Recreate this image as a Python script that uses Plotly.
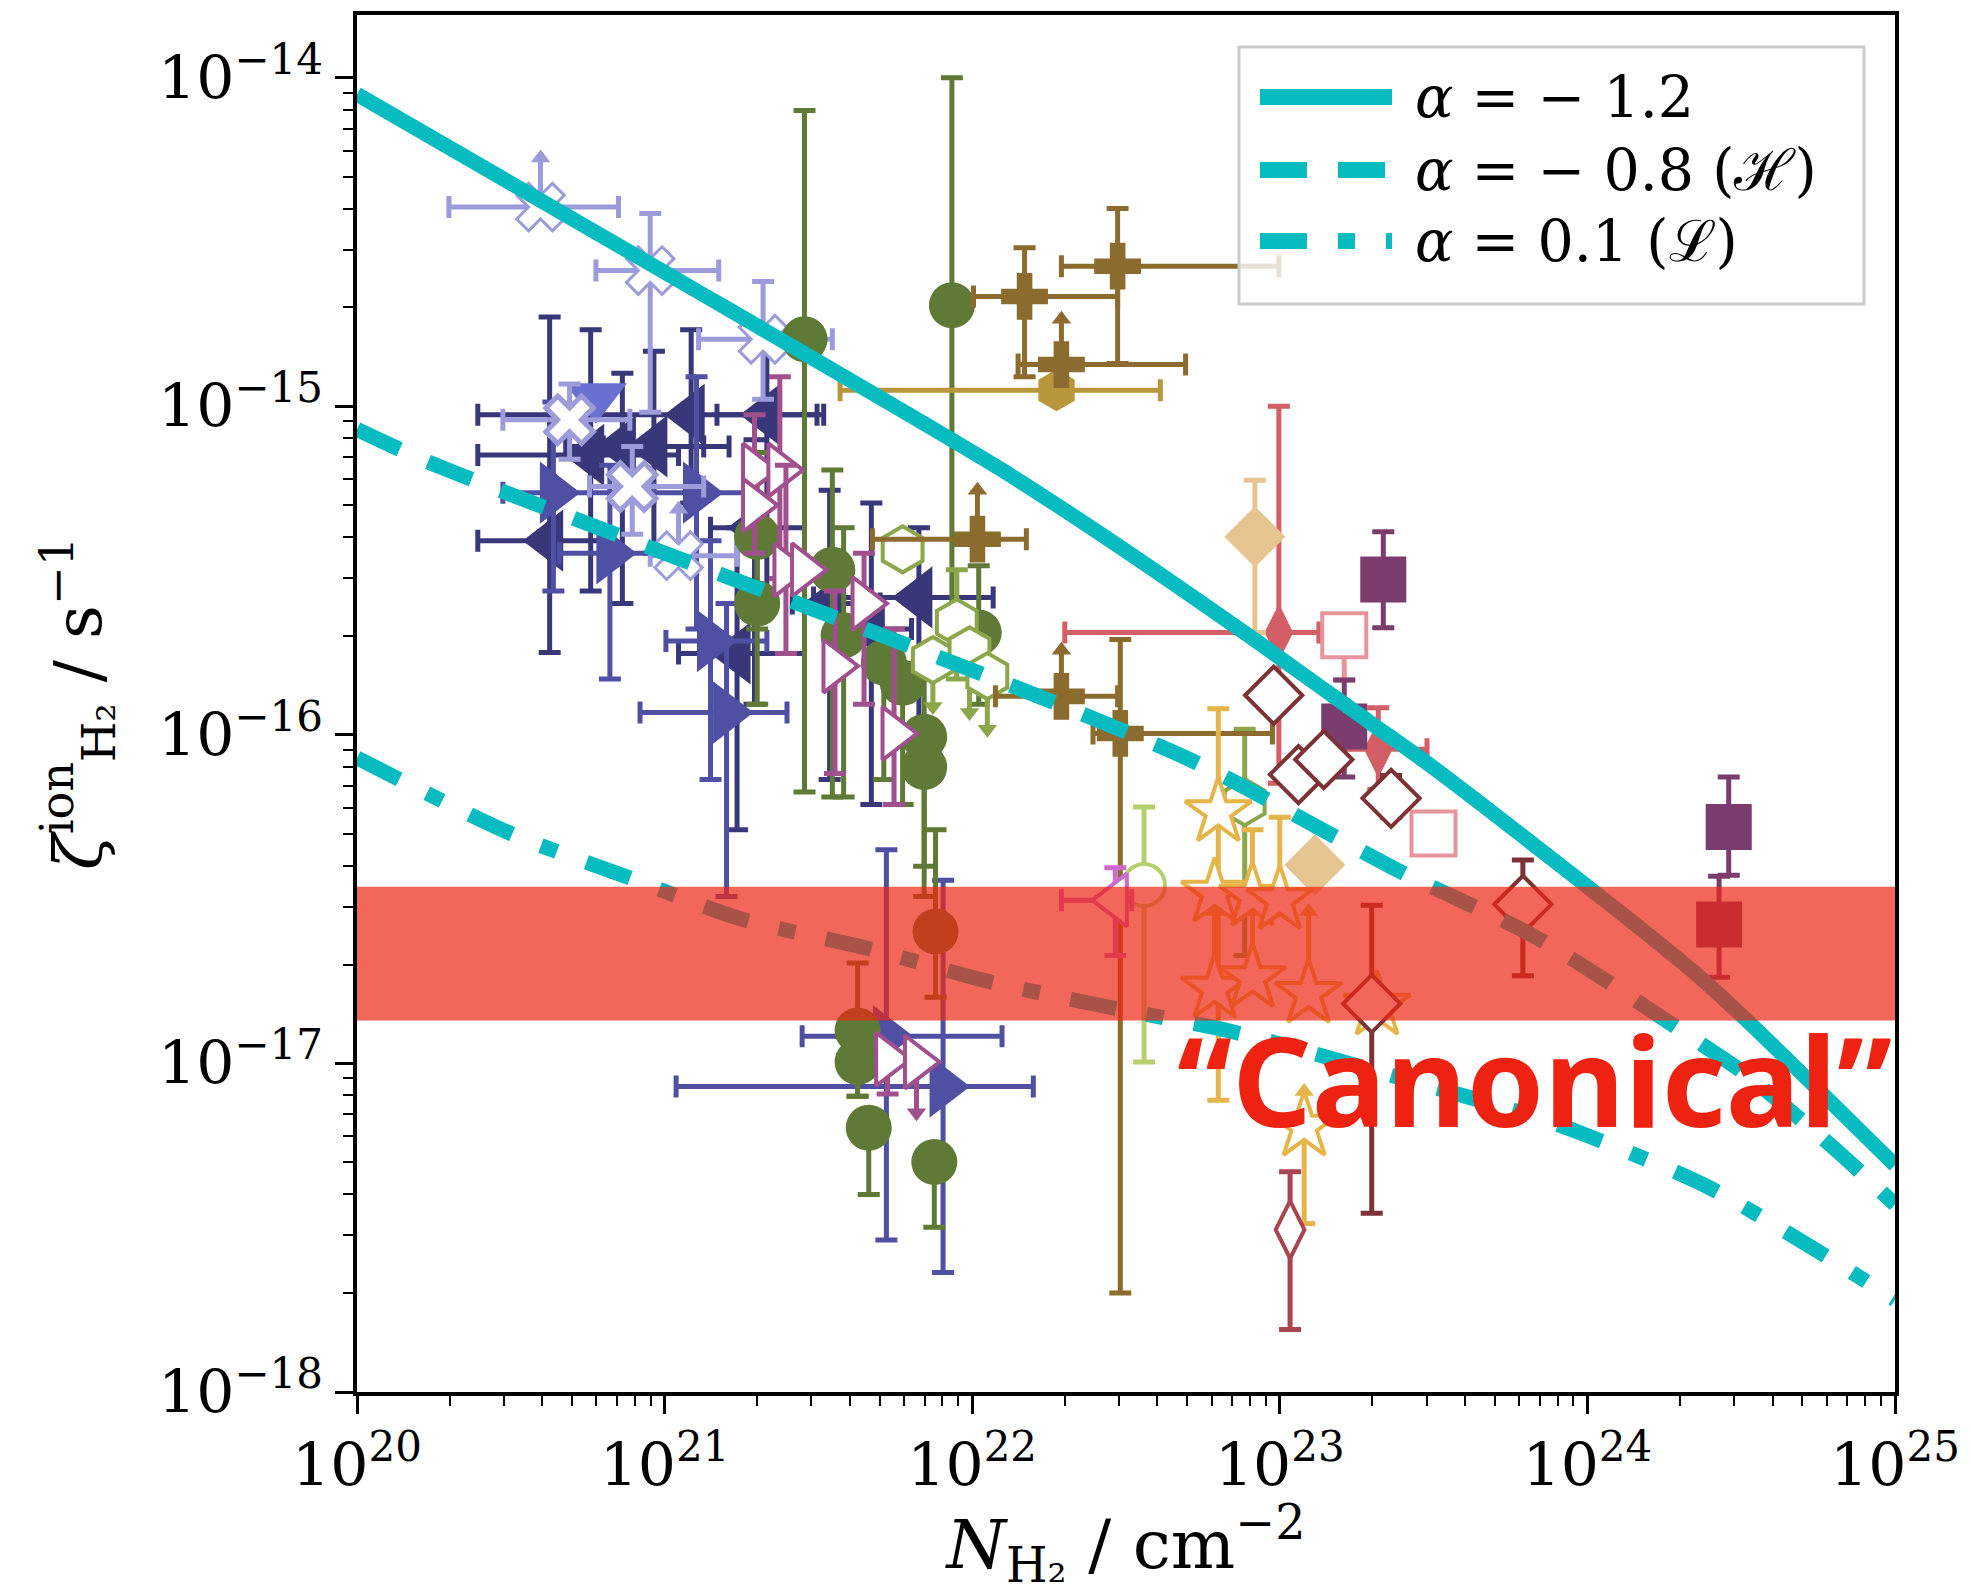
import math
import plotly.graph_objects as go

# ---------------- model curves: zeta(N) for three low-energy spectral slopes ----------------
N_a12 = [1.00e20, 9.12e20, 1.23e22, 2.60e22, 7.94e22, 1.94e23, 3.16e23, 1.20e24, 2.32e24, 3.39e24, 1.00e25]
Z_a12 = [8.91e-15, 2.69e-15, 6.46e-16, 4.10e-16, 2.00e-16, 1.10e-16, 7.94e-17, 3.02e-17, 1.83e-17, 1.32e-17, 4.90e-18]

N_a08 = [1.00e20, 1.71e20, 8.83e20, 1.35e22, 5.37e22, 1.51e23, 2.51e23, 6.92e23, 2.33e24, 3.23e24, 5.90e24, 7.80e24, 1.00e25]
Z_a08 = [8.51e-16, 6.76e-16, 3.74e-16, 1.41e-16, 8.22e-17, 4.90e-17, 3.80e-17, 2.40e-17, 1.15e-17, 9.35e-18, 5.85e-18, 4.63e-18, 3.72e-18]

N_a01 = [1.00e20, 3.16e20, 7.41e20, 1.78e21, 4.57e21, 1.12e22, 2.82e22, 6.76e22, 2.00e23, 6.61e23, 1.00e24, 2.45e24, 5.37e24, 1.00e25]
Z_a01 = [8.51e-17, 5.01e-17, 3.72e-17, 2.75e-17, 2.24e-17, 1.78e-17, 1.48e-17, 1.26e-17, 9.55e-18, 6.92e-18, 6.03e-18, 4.22e-18, 2.75e-18, 1.91e-18]

legend_labels = ["<i>α</i> = − 1.2", "<i>α</i> = − 0.8 (ℋ)", "<i>α</i> = 0.1 (ℒ)"]

# "canonical" ionisation-rate range
canon_lo, canon_hi = 1.35e-17, 3.45e-17

# ---------------- observational estimates ----------------
# light-lavender crosses
A_N   = [3.95e20, 8.98e20, 2.09e21, 1.11e21]
A_Z   = [4.04e-15, 2.59e-15, 1.60e-15, 3.51e-16]
A_Nlo = [1.99e20, 5.98e20, 1.29e21, 8.98e20]
A_Nhi = [7.08e20, 1.50e21, 3.51e21, 1.72e21]
A_Zlo = [None, 9.6e-16, 1.05e-15, None]
A_Zhi = [None, 3.86e-15, 2.40e-15, None]
A_low = [5.7e-15, None, None, 4.86e-16]

# white crosses, lavender edge
B_N   = [4.91e20, 7.85e20]
B_Z   = [9.1e-16, 5.70e-16]
B_Nlo = [2.98e20, 5.70e20]
B_Nhi = [7.71e20, 1.34e21]
B_Zlo = [6.9e-16, 4.08e-16]
B_Zhi = [1.17e-15, 7.55e-16]

# dark navy left triangles
C_N   = [4.23e20, 1.22e21, 2.15e21, 7.29e20, 1.72e21, 6.71e21, 1.96e21, 3.44e21, 4.70e21, 9.23e20, 5.75e20]
C_Z   = [3.90e-16, 9.42e-16, 9.42e-16, 7.55e-16, 1.77e-16, 2.62e-16, 4.27e-16, 2.51e-16, 2.10e-16, 7.55e-16, 7.11e-16]
C_Nlo = [2.47e20, 2.47e20, 1.48e21, 4.77e20, 1.11e21, 3.05e21, 1.41e21, 2.60e21, 3.61e21, 6.32e20, 2.47e20]
C_Nhi = [6.32e20, 3.13e21, 3.29e21, 1.34e21, 2.85e21, 1.17e22, 2.85e21, 5.02e21, 6.35e21, 1.62e21, 1.11e21]
C_Zlo = [1.78e-16, 5.08e-16, 2.74e-16, 2.51e-16, 5.14e-17, 9.53e-17, 1.24e-16, 7.31e-17, 6.14e-17, 3.57e-16, 2.74e-16]
C_Zhi = [1.87e-15, 1.71e-15, 1.60e-15, 1.26e-15, 4.27e-16, 4.27e-16, 7.91e-16, 5.55e-16, 5.08e-16, 1.47e-15, 1.71e-15]

# medium blue right triangles
D_N   = [4.35e20, 6.64e20, 1.27e21, 1.41e21, 1.59e21, 5.26e21, 8.04e21]
D_Z   = [5.46e-16, 3.57e-16, 5.46e-16, 1.93e-16, 1.17e-16, 1.21e-17, 8.51e-18]
D_Nlo = [2.98e20, 4.55e20, 9.23e20, 1.01e21, 8.32e20, 2.80e21, 1.09e21]
D_Nhi = [6.95e20, 1.01e21, 1.96e21, 2.15e21, 2.50e21, 1.25e22, 1.58e22]
D_Zlo = [2.74e-16, 1.48e-16, 2.10e-16, 7.31e-17, 3.22e-17, 2.90e-18, 2.31e-18]
D_Zhi = [1.03e-15, 6.62e-16, 1.23e-15, 3.90e-16, 2.51e-16, 4.47e-17, 3.61e-17]

# periwinkle down triangle
E_N = [5.98e20]
E_Z = [1.07e-15]

# olive circles
F_N   = [2.85e21, 8.59e21, 2.00e21, 2.00e21, 3.51e21, 3.82e21, 5.16e21, 5.94e21, 6.98e21, 6.98e21,
         1.05e22, 7.60e21, 4.24e21, 4.24e21, 4.61e21, 7.53e21]
F_Z   = [1.60e-15, 2.03e-15, 4.01e-16, 2.51e-16, 3.18e-16, 2.01e-16, 1.66e-16, 1.44e-16, 9.87e-17, 7.98e-17,
         2.05e-16, 2.52e-17, 1.26e-17, 1.01e-17, 6.37e-18, 5.01e-18]
F_Zlo = [6.70e-17, 1.69e-16, 2.10e-16, 1.24e-16, 6.47e-17, 6.47e-17, 7.31e-17, 6.14e-17, 3.98e-17, 3.22e-17,
         1.24e-16, 1.59e-17, 7.94e-18, 7.94e-18, 3.99e-18, 3.17e-18]
F_Zhi = [7.95e-15, 1.0e-14, 7.23e-16, 4.27e-16, 6.40e-16, 4.27e-16, None, None, None, 1.48e-16,
         3.27e-16, 5.14e-17, 2.02e-17, None, None, None]

# light olive hexagons (three of them are upper limits)
H_N   = [5.94e21, 8.91e21, 7.45e21, 9.80e21, 1.12e22, 7.69e22]
H_Z   = [3.67e-16, 2.20e-16, 1.69e-16, 1.81e-16, 1.51e-16, 6.24e-17]
H_Zlo = [None, 1.48e-16, None, None, None, 2.13e-17]
H_Zhi = [None, 3.18e-16, None, None, None, 1.04e-16]
H_up  = [None, None, 1.22e-16, 1.17e-16, 1.04e-16, None]

# brown plus markers
P_N   = [1.48e22, 2.97e22, 1.95e22, 1.04e22, 1.95e22, 3.03e22]
P_Z   = [2.16e-15, 2.67e-15, 1.34e-15, 3.94e-16, 1.31e-16, 1.01e-16]
P_Nlo = [1.01e22, 1.95e22, 1.41e22, 4.74e21, 1.19e22, 2.47e22]
P_Nhi = [2.97e22, 9.93e22, 4.94e22, 1.50e22, 2.97e22, 9.46e22]
P_Zlo = [1.23e-15, 1.35e-15, None, None, None, 2.00e-18]
P_Zhi = [3.04e-15, 4.00e-15, None, None, None, 1.95e-16]
P_low = [None, None, 1.84e-15, 5.55e-16, 1.81e-16, None]

# gold hexagon
G_N, G_Z, G_Nlo, G_Nhi = [1.88e22], [1.12e-15], [3.72e21], [4.09e22]

# coral thin diamonds
R_N   = [9.93e22, 2.09e23]
R_Z   = [2.05e-16, 9.04e-17]
R_Nlo = [2.00e22, 1.49e23]
R_Nhi = [1.34e23, 3.01e23]
R_Zlo = [7.13e-17, 6.82e-17]
R_Zhi = [1.0e-15, 1.21e-16]

# pink open squares
Q_N, Q_Z, Q_Zlo = [1.62e23, 3.16e23], [2.01e-16, 5.01e-17], [1.47e-16, None]

# plum squares
S_N   = [2.17e23, 1.62e23, 2.88e24, 2.68e24]
S_Z   = [2.97e-16, 1.06e-16, 5.24e-17, 2.65e-17]
S_Zlo = [2.12e-16, 7.45e-17, 3.74e-17, 1.83e-17]
S_Zhi = [4.15e-16, 1.47e-16, 7.45e-17, 3.71e-17]

# maroon open diamonds
K_N   = [9.55e22, 1.15e23, 1.39e23, 2.30e23, 6.17e23, 1.99e23]
K_Z   = [1.32e-16, 7.57e-17, 8.41e-17, 6.41e-17, 3.05e-17, 1.52e-17]
K_Zlo = [None, None, None, 5.61e-17, 1.85e-17, 3.50e-18]
K_Zhi = [None, None, None, 7.52e-17, 4.16e-17, 3.03e-17]

# rose thin open diamond
K7_N, K7_Z, K7_Zlo, K7_Zhi = [1.08e23], [3.12e-18], [1.55e-18], [4.68e-18]

# tan diamonds
T_N, T_Z, T_Zlo, T_Zhi = [8.30e22, 1.30e23], [4.01e-16, 4.02e-17], [2.05e-16, None], [5.96e-16, None]

# golden open stars
Y_N   = [6.31e22, 6.14e22, 8.15e22, 1.00e23, 6.14e22, 8.15e22, 1.24e23, 1.20e23, 2.07e23]
Y_Z   = [5.82e-17, 3.31e-17, 3.22e-17, 3.14e-17, 1.69e-17, 1.82e-17, 1.63e-17, 6.43e-18, 1.50e-17]
Y_Zlo = [7.73e-18, None, None, None, None, None, None, 3.26e-18, None]
Y_Zhi = [1.20e-16, None, 5.14e-17, 5.61e-17, None, None, None, None, None]
Y_low = [None, None, None, None, 2.9e-17, 2.9e-17, 2.9e-17, 8.22e-18, None]

# light green open circle
L_N, L_Z, L_Zlo, L_Zhi = [3.62e22], [3.49e-17], [1.01e-17], [6.03e-17]

# orchid open left triangle
O_N, O_Z, O_Nlo, O_Nhi, O_Zlo, O_Zhi = [2.92e22], [3.14e-17], [1.95e22], [3.30e22], [2.13e-17], [3.94e-17]

# magenta open right triangles (last one an upper limit)
M_N   = [1.96e21, 2.37e21, 1.96e21, 2.48e21, 2.83e21, 4.45e21, 3.58e21, 5.57e21, 5.31e21, 6.59e21]
M_Z   = [6.40e-16, 6.40e-16, 5.00e-16, 3.18e-16, 3.18e-16, 2.51e-16, 1.62e-16, 1.01e-16, 1.03e-17, 1.01e-17]
M_Zlo = [3.57e-16, 2.99e-16, None, 1.77e-16, None, 1.24e-16, 7.63e-17, 6.14e-17, 8.07e-18, None]
M_Zhi = [9.42e-16, 1.23e-15, None, 6.62e-16, None, 3.57e-16, 2.74e-16, 2.10e-16, None, None]
M_up  = [None] * 9 + [7.08e-18]

# ---------------- drawing ----------------
CYAN = "#06BCC1"
fig = go.Figure()


def _get(a, i):
    return None if a is None else a[i]


def add_points(N, Z, symbol, color, size, fill=None, lw=0,
               Nlo=None, Nhi=None, Zlo=None, Zhi=None, ew=5):
    for i in range(len(N)):
        tr = dict(x=[N[i]], y=[Z[i]], mode="markers", showlegend=False, hoverinfo="skip",
                  marker=dict(symbol=symbol, size=size, color=fill or color,
                              line=dict(color=color, width=lw)))
        lo, hi = _get(Zlo, i), _get(Zhi, i)
        if lo is not None or hi is not None:
            tr["error_y"] = dict(type="data", symmetric=False,
                                 array=[hi - Z[i] if hi is not None else 0],
                                 arrayminus=[Z[i] - lo if lo is not None else 0],
                                 color=color, thickness=ew, width=11)
        lo, hi = _get(Nlo, i), _get(Nhi, i)
        if lo is not None or hi is not None:
            tr["error_x"] = dict(type="data", symmetric=False,
                                 array=[hi - N[i] if hi is not None else 0],
                                 arrayminus=[N[i] - lo if lo is not None else 0],
                                 color=color, thickness=ew, width=11)
        fig.add_trace(go.Scatter(**tr))


def add_limits(N, Z, tips, color):
    for n, z, t in zip(N, Z, tips):
        if t is None:
            continue
        fig.add_trace(go.Scatter(x=[n, n], y=[z, t], mode="lines", showlegend=False,
                                 hoverinfo="skip", line=dict(color=color, width=5)))
        fig.add_trace(go.Scatter(x=[n], y=[t], mode="markers", showlegend=False, hoverinfo="skip",
                                 marker=dict(symbol="triangle-up" if t > z else "triangle-down",
                                             size=17, color=color, line=dict(width=0))))


NAVY, BLUE, LAV, PERI = "#37377A", "#4F50A3", "#9C9CDB", "#6A70CF"
OLIVE, LOLIVE, BROWN, GOLD = "#5E7A36", "#8CA64C", "#8B6B2E", "#B8963B"
CORAL, PINK, PLUM, MAROON = "#D35E66", "#E5959B", "#7B3C6E", "#7D3236"
ROSE, TAN, STAR, LGREEN = "#AA4450", "#E6C591", "#E5B54A", "#B7D06E"
ORCHID, MAGENTA = "#CE6ACB", "#A1508E"

add_points(C_N, C_Z, "triangle-left", NAVY, 54, Nlo=C_Nlo, Nhi=C_Nhi, Zlo=C_Zlo, Zhi=C_Zhi)
add_points(D_N, D_Z, "triangle-right", BLUE, 54, Nlo=D_Nlo, Nhi=D_Nhi, Zlo=D_Zlo, Zhi=D_Zhi)
add_points(E_N, E_Z, "triangle-down", PERI, 54)
add_limits(A_N, A_Z, A_low, LAV)
add_points(A_N, A_Z, "x", LAV, 42, fill="white", lw=3, Nlo=A_Nlo, Nhi=A_Nhi, Zlo=A_Zlo, Zhi=A_Zhi)
add_points(B_N, B_Z, "x", LAV, 42, fill="white", lw=5, Nlo=B_Nlo, Nhi=B_Nhi, Zlo=B_Zlo, Zhi=B_Zhi)
add_points(F_N, F_Z, "circle", OLIVE, 46, Zlo=F_Zlo, Zhi=F_Zhi)
add_limits(M_N, M_Z, M_up, MAGENTA)
add_points(M_N, M_Z, "triangle-right", MAGENTA, 46, fill="white", lw=4, Zlo=M_Zlo, Zhi=M_Zhi)
add_limits(H_N, H_Z, H_up, LOLIVE)
add_points(H_N, H_Z, "hexagon", LOLIVE, 46, fill="white", lw=4, Zlo=H_Zlo, Zhi=H_Zhi)
add_points(G_N, G_Z, "hexagon", GOLD, 42, Nlo=G_Nlo, Nhi=G_Nhi)
add_limits(P_N, P_Z, P_low, BROWN)
add_points(P_N, P_Z, "cross", BROWN, 39, Nlo=P_Nlo, Nhi=P_Nhi, Zlo=P_Zlo, Zhi=P_Zhi)
add_points(R_N, R_Z, "diamond-tall", CORAL, 41, Nlo=R_Nlo, Nhi=R_Nhi, Zlo=R_Zlo, Zhi=R_Zhi)
add_points(T_N, T_Z, "diamond", TAN, 47, Zlo=T_Zlo, Zhi=T_Zhi)
add_points(L_N, L_Z, "circle", LGREEN, 42, fill="white", lw=4, Zlo=L_Zlo, Zhi=L_Zhi)
add_points(O_N, O_Z, "triangle-left", ORCHID, 46, fill="white", lw=4, Nlo=O_Nlo, Nhi=O_Nhi, Zlo=O_Zlo, Zhi=O_Zhi)
add_limits(Y_N, Y_Z, Y_low, STAR)
add_points(Y_N, Y_Z, "star", STAR, 50, fill="white", lw=4, Zlo=Y_Zlo, Zhi=Y_Zhi)
add_points(Q_N, Q_Z, "square", PINK, 44, fill="white", lw=4, Zlo=Q_Zlo)
add_points(S_N, S_Z, "square", PLUM, 46, Zlo=S_Zlo, Zhi=S_Zhi)
add_points(K_N, K_Z, "diamond", MAROON, 44, fill="white", lw=4, Zlo=K_Zlo, Zhi=K_Zhi)
add_points(K7_N, K7_Z, "diamond-tall", ROSE, 41, fill="white", lw=4, Zlo=K7_Zlo, Zhi=K7_Zhi)

DASH = "47px,31px"
DASHDOT = "47px,31px,17px,31px"
for N, Z, dash in [(N_a12, Z_a12, "solid"), (N_a08, Z_a08, DASH), (N_a01, Z_a01, DASHDOT)]:
    fig.add_trace(go.Scatter(x=N, y=Z, mode="lines", showlegend=False, hoverinfo="skip",
                             line=dict(color=CYAN, width=15, dash=dash, shape="spline", smoothing=0.8)))

# ---------------- layout ----------------
W, H = 1972, 1593
ML, MR, MT, MB = 357, 77, 15, 201
PW, PH = W - ML - MR, H - MT - MB
Y_RANGE = [-18, -13.809]


def px(x):
    return (x - ML) / PW


def py(y):
    return 1 - (y - MT) / PH


def py_val(v):
    return (math.log10(v) - Y_RANGE[0]) / (Y_RANGE[1] - Y_RANGE[0])


shapes = [
    dict(type="rect", xref="paper", yref="paper", x0=0, x1=1,
         y0=py_val(canon_lo), y1=py_val(canon_hi),
         fillcolor="rgb(236,38,20)", opacity=0.7, line=dict(width=0), layer="above"),
    dict(type="rect", xref="paper", yref="paper", x0=px(1239), x1=px(1864), y0=py(304), y1=py(47),
         fillcolor="rgba(255,255,255,0.8)", line=dict(color="#CCCCCC", width=3), layer="above"),
]
annotations = []
for row_y, dash, label in zip([97, 170, 241], ["solid", DASH, DASHDOT], legend_labels):
    shapes.append(dict(type="line", xref="paper", yref="paper", x0=px(1260), x1=px(1392),
                       y0=py(row_y), y1=py(row_y), line=dict(color=CYAN, width=16, dash=dash),
                       layer="above"))
    annotations.append(dict(xref="paper", yref="paper", x=px(1413), y=py(row_y), text=label,
                            showarrow=False, xanchor="left", yanchor="middle",
                            font=dict(family="DejaVu Serif", size=57, color="black")))

annotations.append(dict(xref="paper", yref="paper", x=px(1534), y=py(1078), text="“Canonical”",
                        showarrow=False, xanchor="center", yanchor="middle",
                        font=dict(family="Noto Sans", size=124, color="#EE2211", weight="bold")))

x_ticks = [1e20, 1e21, 1e22, 1e23, 1e24, 1e25]
x_ticktext = ["10<sup>20</sup>", "10<sup>21</sup>", "10<sup>22</sup>", "10<sup>23</sup>",
              "10<sup>24</sup>", "10<sup>25</sup>"]
y_ticks = [1e-18, 1e-17, 1e-16, 1e-15, 1e-14]
y_ticktext = ["10<sup>−18</sup>", "10<sup>−17</sup>", "10<sup>−16</sup>", "10<sup>−15</sup>",
              "10<sup>−14</sup>"]

x_minor = [k * 10.0 ** e for e in range(20, 25) for k in range(2, 10)]
y_minor = [k * 10.0 ** e for e in range(-18, -13) for k in range(2, 10)]

tickfont = dict(family="DejaVu Serif", size=60, color="black")
axis_common = dict(type="log", showgrid=False, zeroline=False, showline=True, linecolor="black",
                   linewidth=4, mirror=True, ticks="outside", ticklen=18, tickwidth=3,
                   tickcolor="black", tickfont=tickfont, automargin=False)

fig.update_layout(
    width=W, height=H, margin=dict(l=ML, r=MR, t=MT, b=MB),
    paper_bgcolor="white", plot_bgcolor="white",
    shapes=shapes, annotations=annotations, showlegend=False,
    xaxis=dict(range=[20, 25], tickmode="array", tickvals=x_ticks, ticktext=x_ticktext,
               minor=dict(ticks="outside", ticklen=10, tickwidth=2, tickcolor="black",
                          tickmode="array", tickvals=x_minor),
               title=dict(text="<i>N</i><sub>H₂</sub> / cm<sup>−2</sup>", standoff=48,
                          font=dict(family="DejaVu Serif", size=68, color="black")),
               **axis_common),
    yaxis=dict(range=Y_RANGE, tickmode="array", tickvals=y_ticks, ticktext=y_ticktext,
               minor=dict(ticks="outside", ticklen=10, tickwidth=2, tickcolor="black",
                          tickmode="array", tickvals=y_minor),
               title=dict(text="<i>ζ</i><sup>ion</sup><sub>H₂</sub> / s<sup>−1</sup>", standoff=36,
                          font=dict(family="DejaVu Serif", size=66, color="black")),
               **axis_common),
)

fig.write_html("out.html")
